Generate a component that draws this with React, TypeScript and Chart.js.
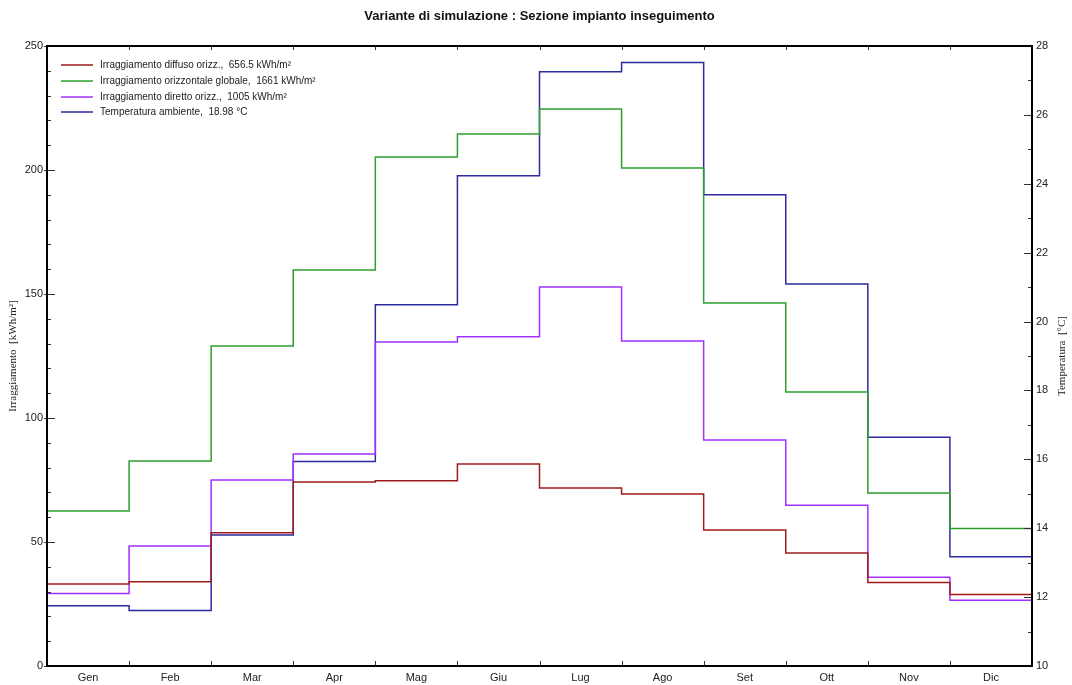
import React, { useEffect, useRef } from "react";
import { Chart, registerables } from "chart.js";

Chart.register(...registerables);

const TITLE = "Variante di simulazione : Sezione impianto inseguimento";
const months = ["Gen", "Feb", "Mar", "Apr", "Mag", "Giu", "Lug", "Ago", "Set", "Ott", "Nov", "Dic"];
const diffuse = [33.1, 34.0, 53.7, 74.2, 74.7, 81.5, 71.8, 69.4, 54.8, 45.6, 33.7, 28.8];
const globalH = [62.5, 82.7, 129.0, 159.7, 205.2, 214.5, 224.6, 200.8, 146.4, 110.5, 69.8, 55.4];
const direct = [29.2, 48.4, 75.0, 85.5, 130.6, 132.8, 152.8, 131.0, 91.1, 64.8, 35.8, 26.5];
const temperature = [11.75, 11.61, 13.8, 15.94, 20.49, 24.23, 27.25, 27.52, 23.68, 21.09, 16.64, 13.17];
const seriesLabels = [
  "Irraggiamento diffuso orizz.,  656.5 kWh/m²",
  "Irraggiamento orizzontale globale,  1661 kWh/m²",
  "Irraggiamento diretto orizz.,  1005 kWh/m²",
  "Temperatura ambiente,  18.98 °C",
];
const seriesColors = ["#9e1b1b", "#2e9e2e", "#a030ff", "#2b2b9e"];
const leftTitle = "Irraggiamento  [kWh/m²]";
const rightTitle = "Temperatura  [°C]";

const steps = (v: number[]) => [...v.map((y, i) => ({ x: i, y })), { x: v.length, y: v[v.length - 1] }];

const FONT = "'Liberation Sans', Arial, sans-serif";
const SERIF = "'Liberation Serif', 'Times New Roman', serif";

const decorPlugin = {
  id: "decor",
  afterDraw(chart: any) {
    const { ctx, chartArea } = chart;
    const { left, right, top, bottom } = chartArea;
    const x = chart.scales.x;
    const y = chart.scales.y;
    const y1 = chart.scales.y1;
    ctx.save();
    // ticks
    ctx.strokeStyle = "#333";
    ctx.lineWidth = 1;
    ctx.beginPath();
    for (let v = 0; v <= 250; v += 10) {
      const py = Math.round(y.getPixelForValue(v)) + 0.5;
      const len = v % 50 === 0 ? 8 : 4;
      ctx.moveTo(left - (v % 50 === 0 ? 3 : 0), py);
      ctx.lineTo(left + len, py);
    }
    for (let v = 10; v <= 28; v += 1) {
      const py = Math.round(y1.getPixelForValue(v)) + 0.5;
      const len = v % 2 === 0 ? 8 : 4;
      ctx.moveTo(right, py);
      ctx.lineTo(right - len, py);
    }
    for (let i = 1; i < months.length; i++) {
      const px = Math.round(x.getPixelForValue(i)) + 0.5;
      ctx.moveTo(px, bottom);
      ctx.lineTo(px, bottom - 5);
      ctx.moveTo(px, top);
      ctx.lineTo(px, top + 4);
    }
    ctx.stroke();
    // frame
    ctx.strokeStyle = "#000";
    ctx.lineWidth = 2;
    ctx.strokeRect(left, top, right - left, bottom - top);
    // title
    ctx.fillStyle = "#111";
    ctx.font = `bold 13px ${FONT}`;
    ctx.textAlign = "center";
    ctx.textBaseline = "middle";
    ctx.fillText(TITLE, (left + right) / 2, 16);
    // axis titles
    ctx.font = `11px ${SERIF}`;
    ctx.fillStyle = "#222";
    const cy = (top + bottom) / 2;
    ctx.save();
    ctx.translate(13, cy);
    ctx.rotate(-Math.PI / 2);
    ctx.fillText(leftTitle, 0, 0);
    ctx.restore();
    ctx.save();
    ctx.translate(1062, cy);
    ctx.rotate(-Math.PI / 2);
    ctx.fillText(rightTitle, 0, 0);
    ctx.restore();
    // legend
    ctx.font = `10px ${FONT}`;
    ctx.textAlign = "left";
    const rows = [65, 81, 97, 112];
    seriesLabels.forEach((lab, i) => {
      ctx.strokeStyle = seriesColors[i];
      ctx.lineWidth = 1.5;
      ctx.beginPath();
      ctx.moveTo(61, rows[i]);
      ctx.lineTo(93, rows[i]);
      ctx.stroke();
      ctx.fillStyle = "#222";
      ctx.fillText(lab, 100, rows[i]);
    });
    ctx.restore();
  },
};

export default function App() {
  const ref = useRef<HTMLCanvasElement | null>(null);
  useEffect(() => {
    if (!ref.current) return;
    const values = [diffuse, globalH, direct, temperature];
    const chart = new Chart(ref.current, {
      type: "line",
      data: {
        datasets: values.map((v, i) => ({
          label: seriesLabels[i],
          data: steps(v),
          borderColor: seriesColors[i],
          backgroundColor: seriesColors[i],
          borderWidth: 1.5,
          pointRadius: 0,
          stepped: "before" as const,
          fill: false,
          xAxisID: "x",
          yAxisID: i === 3 ? "y1" : "y",
        })),
      },
      options: {
        animation: false,
        responsive: true,
        maintainAspectRatio: false,
        layout: { padding: { top: 46, left: 0, right: 0, bottom: 0 } },
        plugins: { legend: { display: false }, tooltip: { enabled: false }, title: { display: false } },
        scales: {
          x: { type: "linear", min: 0, max: 12, display: false },
          xLabels: {
            type: "category",
            labels: months,
            offset: true,
            position: "bottom",
            grid: { display: false, drawTicks: false },
            border: { display: false },
            ticks: { padding: 5, color: "#222", font: { family: FONT, size: 11 } },
            afterFit: (s: any) => { s.height = 19; },
          },
          y: {
            type: "linear",
            position: "left",
            min: 0,
            max: 250,
            ticks: { stepSize: 50, padding: 4, color: "#222", font: { family: FONT, size: 11 } },
            grid: { display: false, drawTicks: false },
            border: { display: false },
            afterFit: (s: any) => { s.width = 47; },
          },
          y1: {
            type: "linear",
            position: "right",
            min: 10,
            max: 28,
            ticks: { stepSize: 2, padding: 4, color: "#222", font: { family: FONT, size: 11 } },
            grid: { display: false, drawTicks: false },
            border: { display: false },
            afterFit: (s: any) => { s.width = 40; },
          },
        },
      } as any,
      plugins: [decorPlugin],
    });
    return () => chart.destroy();
  }, []);
  return (
    <div style={{ position: "fixed", left: 0, top: 0, width: 1072, height: 685, background: "#fff" }}>
      <canvas ref={ref} />
    </div>
  );
}
